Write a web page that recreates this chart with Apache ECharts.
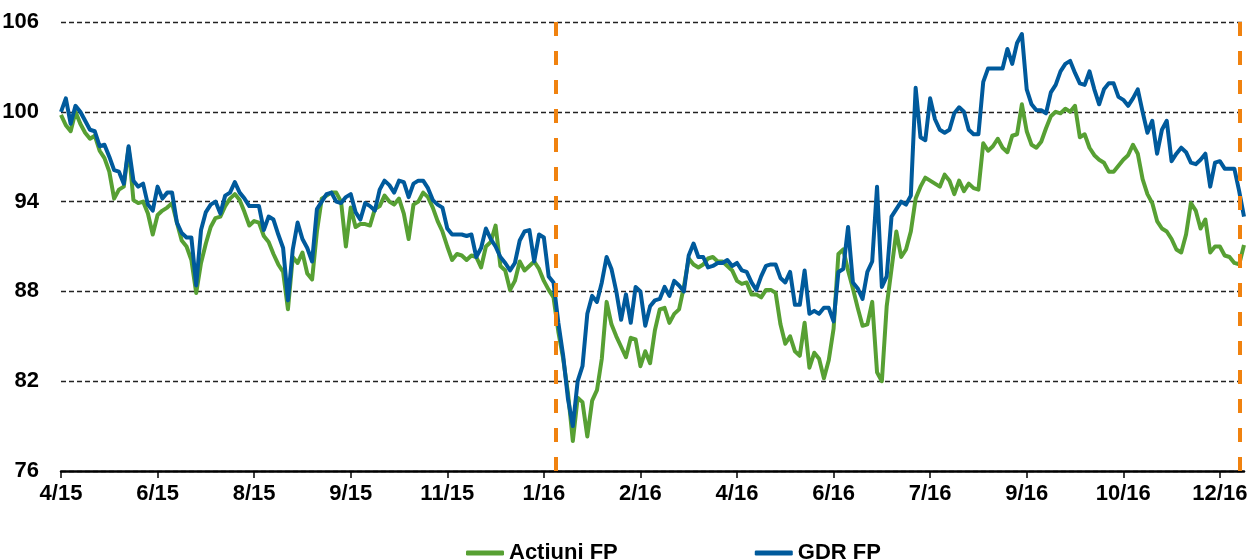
<!DOCTYPE html>
<html>
<head>
<meta charset="utf-8">
<script src="https://cdn.jsdelivr.net/npm/echarts@6/dist/echarts.min.js"></script>
<style>
  html, body { margin: 0; padding: 0; background: #fff; }
  #chart { width: 1252px; height: 559px; }
</style>
</head>
<body>
<div id="chart"></div>
<script>
// tick labels shown every tickStep points along the x axis
const tickLabels = ['4/15', '6/15', '8/15', '9/15', '11/15', '1/16', '2/16', '4/16', '6/16', '7/16', '9/16', '10/16', '12/16'];
const tickStep = 20;

// Acțiuni FP (green)
const actiuni = [
  99.8, 99.1, 98.7, 100.0, 99.2, 98.6, 98.2, 98.4, 97.4, 96.9,
  96.0, 94.2, 94.8, 95.0, 97.6, 94.1, 93.9, 94.0, 93.2, 91.8,
  93.1, 93.4, 93.6, 93.9, 92.6, 91.4, 91.0, 90.1, 87.9, 89.9,
  91.2, 92.3, 92.9, 93.0, 93.7, 94.2, 94.5, 94.1, 93.3, 92.4,
  92.7, 92.6, 91.7, 91.3, 90.5, 89.8, 89.3, 86.8, 90.3, 89.9,
  90.6, 89.2, 88.8, 92.0, 94.2, 94.4, 94.6, 94.6, 94.0, 91.0,
  93.6, 92.3, 92.5, 92.5, 92.4, 93.5, 93.7, 94.4, 94.0, 93.8,
  94.2, 93.2, 91.5, 93.8, 94.0, 94.6, 94.3, 93.6, 92.7, 92.0,
  91.0, 90.1, 90.5, 90.4, 90.1, 90.4, 90.3, 89.6, 91.0, 91.3,
  92.4, 89.7, 89.4, 88.1, 88.7, 90.0, 89.4, 89.7, 90.0, 89.5,
  88.7, 88.1, 87.6, 85.3, 83.5, 81.2, 78.0, 80.9, 80.6, 78.3,
  80.7, 81.4, 83.5, 87.3, 85.8, 85.0, 84.3, 83.6, 84.9, 84.8,
  83.0, 84.0, 83.2, 85.4, 86.8, 86.9, 85.9, 86.5, 86.8, 88.3,
  90.2, 89.8, 89.6, 89.8, 90.2, 90.3, 90.0, 90.0, 89.7, 89.4,
  88.7, 88.5, 88.6, 87.8, 87.8, 87.6, 88.1, 88.1, 87.9, 85.8,
  84.5, 85.0, 84.0, 83.7, 85.9, 82.9, 83.9, 83.5, 82.2, 83.4,
  85.5, 90.5, 90.8, 89.4, 88.2, 86.9, 85.7, 85.8, 87.3, 82.6,
  82.0, 87.0, 89.5, 92.0, 90.3, 90.8, 92.0, 94.2, 95.0, 95.6,
  95.4, 95.2, 95.0, 95.8, 95.4, 94.5, 95.4, 94.7, 95.2, 94.9,
  94.8, 97.9, 97.4, 97.7, 98.2, 97.6, 97.3, 98.4, 98.5, 100.5,
  98.7, 97.8, 97.6, 98.0, 98.9, 99.7, 100.0, 99.9, 100.2, 100.0,
  100.4, 98.3, 98.5, 97.6, 97.1, 96.8, 96.6, 96.0, 96.0, 96.4,
  96.8, 97.1, 97.8, 97.2, 95.5, 94.5, 93.9, 92.7, 92.2, 92.0,
  91.5, 90.8, 90.6, 91.8, 93.9, 93.4, 92.2, 92.8, 90.6, 91.0,
  91.0, 90.4, 90.3, 89.9, 89.8, 91.1
];

// GDR FP (blue)
const gdr = [
  100.0, 100.9, 99.2, 100.4, 100.0, 99.4, 98.8, 98.7, 97.7, 97.8,
  97.0, 96.1, 96.0, 95.2, 97.7, 95.4, 95.0, 95.2, 93.8, 93.4,
  95.0, 94.2, 94.6, 94.6, 92.6, 91.9, 91.6, 91.6, 88.4, 92.1,
  93.3, 93.8, 94.0, 93.2, 94.4, 94.6, 95.3, 94.6, 94.2, 93.7,
  93.7, 93.7, 92.1, 93.0, 92.8, 91.8, 90.9, 87.4, 90.8, 92.6,
  91.5, 90.9, 90.0, 93.5, 94.0, 94.5, 94.6, 94.0, 93.9, 94.3,
  94.5, 93.3, 92.8, 93.9, 93.7, 93.4, 94.8, 95.4, 95.1, 94.6,
  95.4, 95.3, 94.3, 95.2, 95.4, 95.4, 94.9, 94.1, 93.8, 93.6,
  92.2, 91.8, 91.8, 91.8, 91.7, 91.8, 90.3, 90.9, 92.2, 91.5,
  91.0, 90.3, 89.9, 89.4, 89.9, 91.4, 92.0, 92.1, 90.0, 91.8,
  91.6, 89.0, 88.6, 85.9, 83.7, 80.8, 79.0, 82.0, 83.0, 86.5,
  87.7, 87.3, 88.6, 90.3, 89.5, 88.0, 86.1, 87.8, 85.9, 88.3,
  88.0, 85.7, 87.0, 87.4, 87.5, 88.3, 87.7, 88.7, 88.4, 88.0,
  90.4, 91.2, 90.3, 90.3, 89.6, 89.7, 89.9, 89.9, 90.1, 89.7,
  89.9, 89.4, 89.3, 88.6, 88.1, 89.0, 89.7, 89.8, 89.8, 88.9,
  88.6, 89.3, 87.1, 87.1, 89.4, 86.5, 86.7, 86.5, 86.9, 86.9,
  86.0, 89.3, 89.5, 92.3, 88.6, 88.2, 87.5, 89.3, 90.0, 95.0,
  88.3, 89.0, 93.0, 93.5, 94.0, 93.8, 94.4, 101.6, 98.3, 98.1,
  100.9, 99.5, 98.8, 98.6, 98.8, 99.9, 100.3, 100.0, 98.8, 98.5,
  98.5, 102.0, 102.9, 102.9, 102.9, 102.9, 104.2, 103.2, 104.6, 105.2,
  101.5, 100.5, 100.1, 100.1, 99.9, 101.3, 101.8, 102.7, 103.2, 103.4,
  102.6, 101.9, 101.8, 102.7, 101.5, 100.5, 101.5, 101.9, 101.9, 101.0,
  100.8, 100.4, 100.9, 101.5, 100.0, 98.6, 99.4, 97.2, 98.8, 99.4,
  96.7, 97.2, 97.6, 97.3, 96.6, 96.5, 96.8, 97.2, 95.0, 96.6,
  96.7, 96.2, 96.2, 96.2, 94.7, 93.0
];

// orange dashed markers (x position in point index)
const eventLines = [102.5, 244.1];

const font = "'Liberation Sans Narrow', 'Arial Narrow', 'Liberation Sans', Arial, sans-serif";
const fontSize = 22;
const tickValues = tickLabels.map((_, k) => k * tickStep);
const lastIndex = gdr.length - 1;

const chart = echarts.init(document.getElementById('chart'), null, { renderer: 'canvas' });

const options = {
  animation: false,
  backgroundColor: '#fff',
  textStyle: { fontFamily: font },
  grid: {
    left: 61,
    right: 8,
    top: 22,
    bottom: 88,
    outerBoundsMode: 'none',
  },
  legend: {
    left: 461,
    top: 537,
    itemGap: 137,
    itemWidth: 38,
    itemHeight: 5,
    icon: 'roundRect',
    textStyle: {
      fontFamily: font,
      fontSize: fontSize,
      fontWeight: 'bold',
      color: '#000',
    },
    data: ['Acțiuni FP', 'GDR FP'],
  },
  xAxis: {
    type: 'value',
    min: 0,
    max: lastIndex,
    interval: tickStep,
    splitLine: { show: false },
    axisLine: { show: true, lineStyle: { color: '#000', width: 2.5 } },
    axisTick: {
      show: true,
      length: 7,
      lineStyle: { color: '#000', width: 1.5 },
      customValues: tickValues,
    },
    axisLabel: {
      margin: 12,
      fontFamily: font,
      fontSize: fontSize,
      fontWeight: 'bold',
      color: '#000',
      customValues: tickValues,
      formatter: (v) => tickLabels[Math.round(v / tickStep)] || '',
    },
  },
  yAxis: {
    type: 'value',
    min: 76,
    max: 106,
    interval: 6,
    axisLine: { show: false },
    axisTick: { show: false },
    axisLabel: {
      margin: 22,
      fontFamily: font,
      fontSize: fontSize,
      fontWeight: 'bold',
      color: '#000',
    },
    splitLine: {
      show: true,
      lineStyle: { color: '#222', width: 1.3, type: [5, 3] },
    },
  },
  series: [
    {
      name: 'Acțiuni FP',
      type: 'line',
      data: actiuni.map((v, i) => [i, v]),
      symbol: 'none',
      color: '#57A033',
      lineStyle: { width: 4, join: 'round' },
      z: 2,
    },
    {
      name: 'GDR FP',
      type: 'line',
      data: gdr.map((v, i) => [i, v]),
      symbol: 'none',
      color: '#005A9C',
      lineStyle: { width: 4, join: 'round' },
      z: 3,
      markLine: {
        silent: true,
        symbol: ['none', 'none'],
        label: { show: false },
        lineStyle: { color: '#F0820F', width: 4, type: [14, 15] },
        data: eventLines.map((x) => ({ xAxis: x })),
      },
    },
  ],
};

chart.setOption(options);
</script>
</body>
</html>
